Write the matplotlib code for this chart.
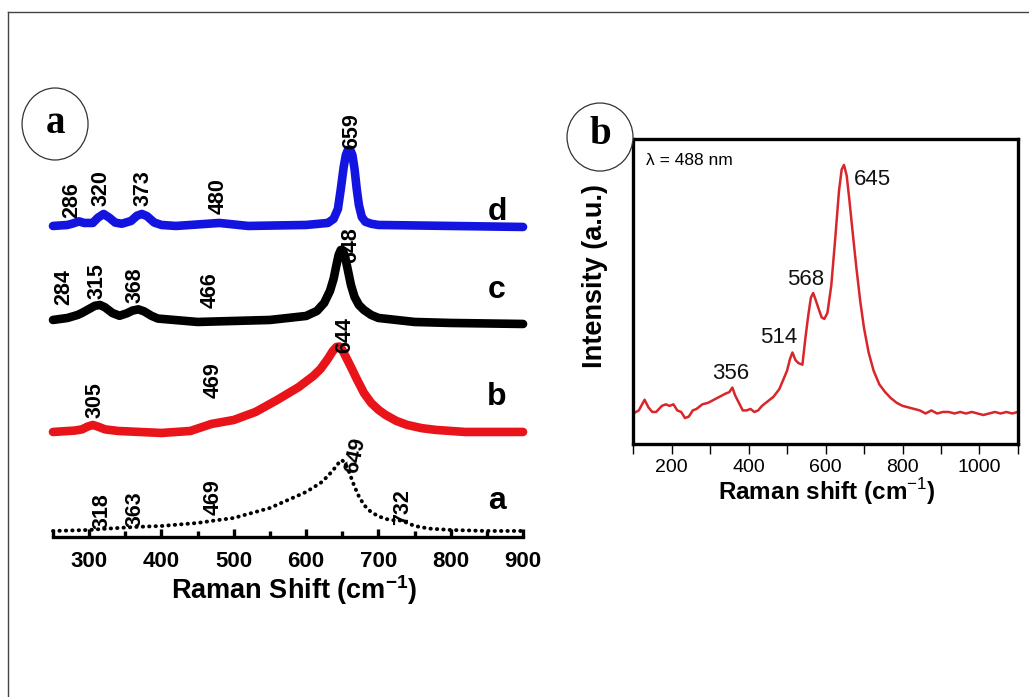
import numpy as np
import matplotlib
matplotlib.use("Agg")
import matplotlib.pyplot as plt
from matplotlib.patches import Ellipse
from matplotlib.lines import Line2D

plt.rcParams["font.family"] = ["Liberation Sans", "DejaVu Sans"]
plt.rcParams["mathtext.fontset"] = "custom"
plt.rcParams["mathtext.rm"] = "Liberation Sans"
plt.rcParams["mathtext.bf"] = "Liberation Sans:bold"

# ---- panel a: stacked spectra (offset intensity, a.u.) ----
xa = [250, 300, 318, 363, 400, 450, 469, 500, 550, 600, 620, 630, 640, 645,
      649, 653, 658, 665, 672, 680, 690, 700, 710, 720, 732, 740, 750, 770,
      800, 850, 900]
ya = [1.5, 1.75, 2, 2.5, 2.75, 3.5, 4, 4.75, 7.25, 11.25, 13.5, 15.2, 17.3, 18.5,
      19.25, 18.7, 17, 13.5, 10.5, 8, 6.2, 5.2, 4.5, 4.2, 4.1, 3.5, 2.75, 2.1,
      1.75, 1.5, 1.5]

xb = [250, 280, 290, 298, 305, 312, 322, 340, 370, 400, 440, 469, 500, 530,
      560, 590, 610, 620, 630, 637, 642, 646, 650, 655, 662, 670, 680, 690,
      700, 710, 725, 740, 760, 780, 820, 900]
yb = [26.25, 26.6, 26.9, 27.6, 28, 27.6, 26.9, 26.5, 26.25, 26, 26.5, 28.25,
      29.25, 31.25, 34.25, 37.5, 40.25, 42, 44.5, 46.5, 47.5, 47.6, 46.8, 45,
      42.5, 39.5, 36, 33.5, 31.8, 30.5, 29, 28, 27.2, 26.75, 26.25, 26.25]

xc = [250, 270, 284, 290, 300, 308, 315, 322, 332, 342, 352, 360, 368, 376,
      386, 395, 450, 500, 550, 600, 615, 625, 633, 638, 642, 645, 648, 651,
      654, 658, 662, 667, 673, 680, 690, 700, 750, 800, 900]
yc = [54.25, 54.75, 55.5, 56, 57, 57.8, 58, 57.4, 56, 55.3, 55.9, 56.6, 56.9,
      56.4, 55.3, 54.6, 53.75, 54, 54.25, 55.25, 56.5, 58.5, 61.5, 64.5, 68,
      70.5, 71.75, 71.5, 70, 66.5, 63, 60, 58, 56.75, 55.5, 54.75, 53.75, 53.5,
      53.25]

xd = [250, 270, 278, 286, 293, 305, 312, 320, 328, 336, 345, 358, 366, 373,
      380, 390, 400, 420, 480, 520, 600, 630, 638, 644, 648, 652, 655, 658,
      661, 664, 667, 670, 673, 677, 682, 690, 700, 800, 900]
yd = [77.75, 78, 78.4, 78.9, 78.5, 78.5, 79.8, 80.75, 79.8, 78.6, 78.3, 79,
      80.3, 80.75, 80.2, 78.6, 78, 77.75, 78.5, 77.75, 78, 78.5, 79.5, 82, 87,
      92.5, 95.5, 96.8, 96.8, 95.5, 92, 87, 83, 80, 78.8, 78.3, 78, 77.75, 77.5]

# peak labels: (text, x, y)
peaks_d = [("286", 276, 84.25), ("320", 316, 87.25), ("373", 374, 87.25),
           ("480", 478, 85.25), ("659", 663, 101.5)]
peaks_c = [("284", 265, 62.5), ("315", 311, 64), ("368", 363, 63),
           ("466", 467, 61.75), ("648", 662, 73)]
peaks_b = [("305", 308, 34.25), ("469", 471, 39.25), ("644", 654, 50.5)]
peaks_a = [("318", 318, 6.5), ("363", 363, 7), ("469", 471, 10),
           ("649", 668, 20.5), ("732", 734, 7.5)]

# ---- panel b: single spectrum ----
xr = [100, 115, 130, 140, 150, 160, 175, 185, 195, 205, 215, 225, 235, 245,
      255, 265, 280, 295, 310, 325, 340, 350, 358, 365, 375, 385, 395, 405,
      415, 425, 435, 450, 465, 480, 490, 500, 508, 514, 522, 530, 540, 548,
      555, 562, 568, 575, 583, 590, 597, 605, 615, 625, 635, 642, 648, 655,
      662, 670, 680, 690, 700, 712, 725, 740, 755, 770, 785, 800, 815, 830,
      845, 860, 875, 890, 905, 920, 935, 950, 965, 980, 995, 1010, 1025, 1040,
      1055, 1070, 1085, 1100]
yr = [10, 11, 14.5, 12, 10.5, 10.5, 12.5, 13, 12.5, 13, 11, 10.5, 8.5, 9,
      11, 11.5, 13, 13.5, 14.5, 15.5, 16.5, 17, 18.5, 16, 13.5, 11, 11, 11.5,
      10.5, 11, 12.5, 14, 15.5, 18, 21, 24, 28, 30, 27.5, 26.5, 26, 35,
      42, 48, 49.5, 47, 44, 41.5, 41, 43, 52, 67, 83, 90, 91.5, 88,
      80, 70, 58, 47, 38, 30, 24, 19.5, 17, 15, 13.5, 12.5, 12, 11.5,
      11, 10, 11, 10, 10.5, 10.5, 10, 10.5, 10, 10.5, 10, 9.5, 10, 10.5,
      10, 10.5, 10, 10.5]
peaks_r = [("356", 353, 23), ("514", 478, 35), ("568", 548, 54), ("645", 723, 86.6)]

fig = plt.figure(figsize=(10.29, 6.97), dpi=100)

# border of the page
fig.add_artist(Line2D([8 / 1029, 8 / 1029], [0, 1 - 12 / 697], color="#444444", lw=1))
fig.add_artist(Line2D([8 / 1029, 1], [1 - 12 / 697, 1 - 12 / 697], color="#444444", lw=1))

# ---------- left panel ----------
ax = fig.add_axes([0.0515, 0.2296, 0.4568, 0.6313])
lw = 6.2
ax.plot(xd, yd, color="#1414e0", lw=lw, solid_capstyle="round",
        solid_joinstyle="round", clip_on=False)
ax.plot(xc, yc, color="black", lw=lw, solid_capstyle="round",
        solid_joinstyle="round", clip_on=False)
ax.plot(xb, yb, color="#e8141a", lw=lw, solid_capstyle="round",
        solid_joinstyle="round", clip_on=False)
ax.plot(xa, ya, color="black", lw=2.8, linestyle=(0, (0.1, 1.55)),
        dash_capstyle="round", clip_on=False)

for grp in (peaks_d, peaks_c, peaks_b, peaks_a):
    for t, x, y in grp:
        rot = 78 if t == "649" else 90
        ax.text(x, y, t, rotation=rot, ha="center", va="center",
                fontsize=15.5, fontweight="bold")

for lab, y in (("d", 81.25), ("c", 61.75), ("b", 35), ("a", 9)):
    ax.text(864, y, lab, ha="center", va="center", fontsize=23, fontweight="bold")

ax.set_xlim(250, 900)
ax.set_ylim(0, 110)
for s in ("left", "right", "top"):
    ax.spines[s].set_visible(False)
ax.spines["bottom"].set_linewidth(2.4)
ax.set_yticks([])
ax.set_xticks(np.arange(300, 901, 100))
ax.set_xticks(np.arange(250, 900, 50), minor=True)
ax.tick_params(axis="x", which="major", direction="in", length=6, width=2.4,
               labelsize=16, pad=10)
ax.tick_params(axis="x", which="minor", direction="in", length=4.5, width=2.4)
for lbl in ax.get_xticklabels():
    lbl.set_fontweight("bold")
ax.set_xlabel(r"Raman Shift (cm$^{\mathbf{-1}}$)", fontsize=19.5, fontweight="bold")
ax.xaxis.set_label_coords(0.513, -0.082)

# ---------- right panel ----------
bx = fig.add_axes([0.6152, 0.3630, 0.3741, 0.4376])
bx.plot(xr, yr, color="#d8262b", lw=1.8)
for t, x, y in peaks_r:
    bx.text(x, y, t, ha="center", va="center", fontsize=16, color="#111111")
bx.text(0.034, 0.93, "λ = 488 nm", transform=bx.transAxes, ha="left",
        va="center", fontsize=12.5)
bx.set_xlim(100, 1100)
bx.set_ylim(0, 100)
for s in bx.spines.values():
    s.set_linewidth(2.4)
bx.set_yticks([])
bx.set_xticks(np.arange(200, 1001, 200))
bx.set_xticks(np.arange(100, 1101, 200), minor=True)
bx.tick_params(axis="x", which="both", direction="out", length=7, width=1,
               labelsize=14, pad=4)
bx.set_xlabel("Raman shift (cm$^{-1}$)", fontsize=17.5, fontweight="bold")
bx.xaxis.set_label_coords(0.504, -0.105)
bx.set_ylabel("Intensity (a.u.)", fontsize=19.5, fontweight="bold")
bx.yaxis.set_label_coords(-0.065, 0.55)

# ---------- circled panel letters ----------
fig.add_artist(Ellipse((0.0535, 0.8221), 0.0641, 0.1033, facecolor="white",
                       edgecolor="#333333", lw=0.9, zorder=5))
fig.text(0.0535, 0.8221, "a", ha="center", va="center", fontsize=28,
         fontweight="bold", family="Liberation Serif", zorder=6)
fig.add_artist(Ellipse((0.5831, 0.8034), 0.0641, 0.0976, facecolor="white",
                       edgecolor="#333333", lw=0.9, zorder=5))
fig.text(0.5831, 0.8070, "b", ha="center", va="center", fontsize=28,
         fontweight="bold", family="Liberation Serif", zorder=6)

fig.savefig("out.png", dpi=100)
